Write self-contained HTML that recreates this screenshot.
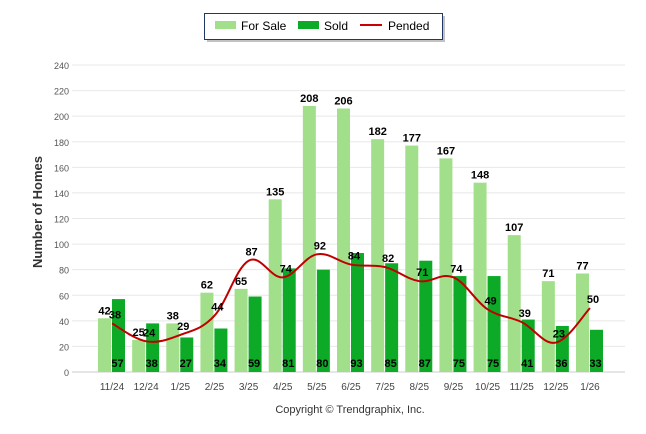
<!DOCTYPE html>
<html><head><meta charset="utf-8"><style>
body{margin:0;background:#fff;font-family:"Liberation Sans",Arial,sans-serif}
#wrap{position:relative;width:646px;height:434px;overflow:hidden}
</style></head><body>
<div id="wrap">
<svg id="svg" width="646" height="434" xmlns="http://www.w3.org/2000/svg">
<g>
<rect x="207" y="16" width="238" height="26" fill="#999" opacity="0.6"/>
<rect x="204.5" y="13.5" width="238" height="26" fill="#fff" stroke="#1f3864" stroke-width="1"/>
<rect x="215" y="21" width="21" height="8" fill="#a2df8a"/>
<text x="241" y="30" font-size="12" fill="#000">For Sale</text>
<rect x="298" y="21" width="21" height="8" fill="#0daa27"/>
<text x="324" y="30" font-size="12" fill="#000">Sold</text>
<line x1="360" y1="25" x2="382" y2="25" stroke="#cc0000" stroke-width="2"/>
<text x="388" y="30" font-size="12" fill="#000">Pended</text>
</g>
<text transform="translate(42,212) rotate(-90)" text-anchor="middle" font-size="13" font-weight="bold" fill="#333">Number of Homes</text>
<text x="350" y="413" text-anchor="middle" font-size="11" fill="#333">Copyright © Trendgraphix, Inc.</text>
<g id="grid"></g><g id="bars"></g><g id="line"></g><g id="labels"></g>
</svg>
</div>
<script>
const categories=["11/24","12/24","1/25","2/25","3/25","4/25","5/25","6/25","7/25","8/25","9/25","10/25","11/25","12/25","1/26"];
const forSale=[42,25,38,62,65,135,208,206,182,177,167,148,107,71,77];
const sold=[57,38,27,34,59,81,80,93,85,87,75,75,41,36,33];
const pended=[38,24,29,44,87,74,92,84,82,71,74,49,39,23,50];
const yTicks=[0,20,40,60,80,100,120,140,160,180,200,220,240];
const NS="http://www.w3.org/2000/svg";
const y0=372,yTop=65,ymax=240;
const y=v=>y0-(v/ymax)*(y0-yTop);
const step=(590-112)/(categories.length-2+1);
const cx=i=>112+i*((590-112)/(categories.length-1));
function mk(tag,attrs,parent){const e=document.createElementNS(NS,tag);for(const k in attrs)e.setAttribute(k,attrs[k]);parent.appendChild(e);return e;}
const grid=document.getElementById('grid'),bars=document.getElementById('bars'),lineG=document.getElementById('line'),labels=document.getElementById('labels');
yTicks.forEach(t=>{
 const l=mk('line',{x1:72,x2:625,y1:y(t),y2:y(t),stroke:t===0?'#ccc':'#e8e8e8','stroke-width':1},grid);
 
 
 const tx=mk('text',{x:69,y:y(t)+4,'text-anchor':'end','font-size':9,fill:'#555'},grid);
 tx.textContent=t;
 
 
});
const bw=13;
categories.forEach((c,i)=>{
 const x=cx(i);
 const b1=mk('rect',{x:x-bw-1,y:y(forSale[i]),width:bw,height:y0-y(forSale[i]),fill:'#a2df8a'},bars);
 
 
 const b2=mk('rect',{x:x,y:y(sold[i]),width:bw,height:y0-y(sold[i]),fill:'#0daa27'},bars);
 
 
 const xl=mk('text',{x:x,y:390,'text-anchor':'middle','font-size':10,fill:'#444'},labels);
 xl.textContent=c;
 
 
 const fl=mk('text',{x:x-bw/2-1,y:y(forSale[i])-4,'text-anchor':'middle','font-size':11,'font-weight':'bold',fill:'#000'},labels);
 fl.textContent=forSale[i];
 
 
 const sl=mk('text',{x:x+bw/2-1,y:367,'text-anchor':'middle','font-size':11,'font-weight':'bold',fill:'#000'},labels);
 sl.textContent=sold[i];
 
 
 const pl=mk('text',{x:x+3,y:y(pended[i])-5,'text-anchor':'middle','font-size':11,'font-weight':'bold',fill:'#000'},labels);
 pl.textContent=pended[i];
 
 
});
const pts=pended.map((v,i)=>[cx(i),y(v)]);
let d=`M${pts[0][0]},${pts[0][1]}`;
for(let i=0;i<pts.length-1;i++){
 const p0=pts[i-1]||pts[i],p1=pts[i],p2=pts[i+1],p3=pts[i+2]||p2;
 const t=0.18;
 d+=` C${p1[0]+(p2[0]-p0[0])*t},${p1[1]+(p2[1]-p0[1])*t} ${p2[0]-(p3[0]-p1[0])*t},${p2[1]-(p3[1]-p1[1])*t} ${p2[0]},${p2[1]}`;
}
const pl=mk('path',{d:d,fill:'none',stroke:'#c00000','stroke-width':2},lineG);


</script>
</body></html>
